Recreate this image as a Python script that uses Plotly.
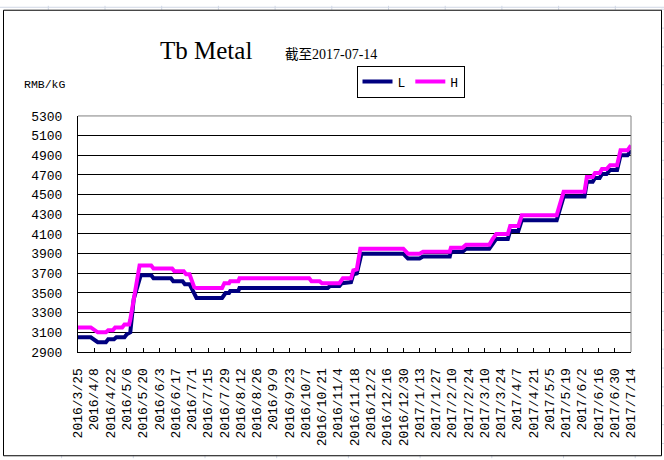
import plotly.graph_objects as go

# ---------------- data ----------------
L_dates = ["2016-03-25", "2016-04-05", "2016-04-11", "2016-04-18", "2016-04-20", "2016-04-25",
           "2016-04-27", "2016-05-04", "2016-05-06", "2016-05-09", "2016-05-12", "2016-05-18",
           "2016-05-27", "2016-05-29", "2016-06-13", "2016-06-15", "2016-06-23", "2016-06-25",
           "2016-06-29", "2016-07-03", "2016-07-05", "2016-07-27", "2016-07-30", "2016-08-02",
           "2016-08-03", "2016-08-10", "2016-08-11", "2016-10-26", "2016-10-28", "2016-11-05",
           "2016-11-07", "2016-11-15", "2016-11-17", "2016-11-20", "2016-11-24", "2016-12-30",
           "2017-01-03", "2017-01-13", "2017-01-16", "2017-02-08", "2017-02-09", "2017-02-19",
           "2017-02-22", "2017-03-14", "2017-03-17", "2017-03-20", "2017-03-30", "2017-04-01",
           "2017-04-08", "2017-04-11", "2017-05-11", "2017-05-17", "2017-06-04", "2017-06-06",
           "2017-06-11", "2017-06-13", "2017-06-17", "2017-06-19", "2017-06-23", "2017-06-26",
           "2017-07-02", "2017-07-05", "2017-07-11", "2017-07-14"]
L_vals = [3050, 3050, 3000, 3000, 3030, 3030,
          3050, 3050, 3080, 3100, 3440, 3680,
          3680, 3650, 3650, 3620, 3620, 3590,
          3590, 3500, 3450, 3450, 3500, 3500,
          3520, 3520, 3550, 3550, 3570, 3570,
          3600, 3610, 3690, 3700, 3900, 3900,
          3850, 3850, 3870, 3870, 3920, 3920,
          3950, 3950, 4000, 4050, 4050, 4130,
          4130, 4240, 4240, 4480, 4480, 4630,
          4630, 4670, 4670, 4710, 4710, 4750,
          4750, 4900, 4900, 4950]

H_dates = ["2016-03-25", "2016-04-05", "2016-04-11", "2016-04-18", "2016-04-20", "2016-04-24",
           "2016-04-26", "2016-05-02", "2016-05-04", "2016-05-08", "2016-05-09", "2016-05-15",
           "2016-05-17", "2016-05-27", "2016-05-29", "2016-06-14", "2016-06-16", "2016-06-24",
           "2016-06-26", "2016-06-29", "2016-07-03", "2016-07-05", "2016-07-27", "2016-07-29",
           "2016-08-02", "2016-08-03", "2016-08-10", "2016-08-11", "2016-10-10", "2016-10-12",
           "2016-10-19", "2016-10-21", "2016-11-05", "2016-11-08", "2016-11-15", "2016-11-17",
           "2016-11-20", "2016-11-23", "2016-12-30", "2017-01-03", "2017-01-13", "2017-01-16",
           "2017-02-08", "2017-02-09", "2017-02-19", "2017-02-22", "2017-03-14", "2017-03-17",
           "2017-03-20", "2017-03-30", "2017-04-01", "2017-04-08", "2017-04-11", "2017-05-11",
           "2017-05-17", "2017-06-04", "2017-06-06", "2017-06-11", "2017-06-13", "2017-06-17",
           "2017-06-19", "2017-06-23", "2017-06-26", "2017-07-02", "2017-07-05", "2017-07-11",
           "2017-07-14"]
H_vals = [3150, 3150, 3100, 3100, 3120, 3120,
          3150, 3150, 3180, 3180, 3230, 3670,
          3780, 3780, 3750, 3750, 3720, 3720,
          3690, 3690, 3560, 3550, 3550, 3600,
          3600, 3620, 3620, 3650, 3650, 3620,
          3620, 3600, 3600, 3650, 3650, 3730,
          3740, 3950, 3950, 3900, 3900, 3920,
          3920, 3960, 3960, 3990, 3990, 4050,
          4100, 4100, 4180, 4180, 4290, 4290,
          4530, 4530, 4680, 4680, 4720, 4720,
          4760, 4760, 4800, 4800, 4950, 4950,
          5000]

tick_dates = ["2016-03-25", "2016-04-08", "2016-04-22", "2016-05-06", "2016-05-20", "2016-06-03",
              "2016-06-17", "2016-07-01", "2016-07-15", "2016-07-29", "2016-08-12", "2016-08-26",
              "2016-09-09", "2016-09-23", "2016-10-07", "2016-10-21", "2016-11-04", "2016-11-18",
              "2016-12-02", "2016-12-16", "2016-12-30", "2017-01-13", "2017-01-27", "2017-02-10",
              "2017-02-24", "2017-03-10", "2017-03-24", "2017-04-07", "2017-04-21", "2017-05-05",
              "2017-05-19", "2017-06-02", "2017-06-16", "2017-06-30", "2017-07-14"]
tick_labels = ["2016/3/25", "2016/4/8", "2016/4/22", "2016/5/6", "2016/5/20", "2016/6/3",
               "2016/6/17", "2016/7/1", "2016/7/15", "2016/7/29", "2016/8/12", "2016/8/26",
               "2016/9/9", "2016/9/23", "2016/10/7", "2016/10/21", "2016/11/4", "2016/11/18",
               "2016/12/2", "2016/12/16", "2016/12/30", "2017/1/13", "2017/1/27", "2017/2/10",
               "2017/2/24", "2017/3/10", "2017/3/24", "2017/4/7", "2017/4/21", "2017/5/5",
               "2017/5/19", "2017/6/2", "2017/6/16", "2017/6/30", "2017/7/14"]
y_ticks = [2900, 3100, 3300, 3500, 3700, 3900, 4100, 4300, 4500, 4700, 4900, 5100, 5300]

title_text = "Tb Metal"
subtitle_cjk = "截至"
subtitle_date = "2017-07-14"
unit_text = "RMB/kG"

# ---------------- layout geometry (pixels) ----------------
W, HGT = 664, 460
PL, PR, PT, PB = 78, 631, 112, 352


def px(x):
    return (x - PL) / (PR - PL)


def py(y):
    return (PB - y) / (PB - PT)


fig = go.Figure()
fig.add_trace(go.Scatter(x=L_dates, y=L_vals, mode="lines", name="L",
                         line=dict(color="#000080", width=4)))
fig.add_trace(go.Scatter(x=H_dates, y=H_vals, mode="lines", name="H",
                         line=dict(color="#FF00FF", width=4)))

shapes = []
sheet_grid = "#d0d7e5"
# spreadsheet grid around the chart object
for i in range(12):
    gx = 48.3 + 56.7 * i
    shapes.append(dict(type="line", xref="paper", yref="paper", x0=px(gx), x1=px(gx),
                       y0=py(0), y1=py(4), line=dict(color=sheet_grid, width=1), layer="below"))
for i in range(9):
    gx = 61.6 + 71.7 * i
    shapes.append(dict(type="line", xref="paper", yref="paper", x0=px(gx), x1=px(gx),
                       y0=py(457), y1=py(460), line=dict(color=sheet_grid, width=1), layer="below"))
for i in range(25):
    gy = 3.5 + 19.2 * i
    shapes.append(dict(type="line", xref="paper", yref="paper", x0=px(661), x1=px(664),
                       y0=py(gy), y1=py(gy), line=dict(color=sheet_grid, width=1), layer="below"))
shapes.append(dict(type="line", xref="paper", yref="paper", x0=px(0), x1=px(664),
                   y0=py(1.5), y1=py(1.5), line=dict(color=sheet_grid, width=1), layer="below"))
# chart object border
shapes.append(dict(type="rect", xref="paper", yref="paper", x0=px(3.5), x1=px(661.5),
                   y0=py(457.5), y1=py(4.5), line=dict(color="#000000", width=1),
                   fillcolor="rgba(0,0,0,0)", layer="below"))
# gray top / right edges of plot area
shapes.append(dict(type="line", xref="x domain", yref="y domain", x0=0, x1=1, y0=1, y1=1,
                   line=dict(color="#808080", width=1)))
shapes.append(dict(type="line", xref="x domain", yref="y domain", x0=1, x1=1, y0=0, y1=1,
                   line=dict(color="#808080", width=1)))

annotations = [
    dict(text=title_text, xref="paper", yref="paper", x=px(206), y=py(45),
         xanchor="center", yanchor="middle", showarrow=False,
         font=dict(family="Liberation Serif", size=25, color="#000000")),
    dict(text="<span style='font-family:Noto Sans CJK SC;font-size:13.5px'>" + subtitle_cjk
              + "</span>" + subtitle_date,
         xref="paper", yref="paper", x=px(283), y=py(48),
         xanchor="left", yanchor="middle", showarrow=False,
         font=dict(family="Liberation Serif", size=14, color="#000000")),
    dict(text=unit_text, xref="paper", yref="paper", x=px(22), y=py(80),
         xanchor="left", yanchor="middle", showarrow=False,
         font=dict(family="Liberation Mono", size=11.5, color="#000000")),
]

fig.update_layout(
    width=W, height=HGT, autosize=False,
    margin=dict(l=PL, r=W - PR, t=PT, b=HGT - PB, pad=0),
    paper_bgcolor="#ffffff", plot_bgcolor="#ffffff",
    font=dict(family="Liberation Mono", size=13, color="#000000"),
    showlegend=True,
    legend=dict(orientation="h", xref="container", yref="container",
                x=410.5 / W, y=1 - 81.5 / HGT, xanchor="center", yanchor="middle",
                bgcolor="#ffffff", bordercolor="#000000", borderwidth=1,
                itemwidth=30, tracegroupgap=0,
                font=dict(family="Liberation Mono", size=13, color="#000000")),
    shapes=shapes,
    annotations=annotations,
)

fig.update_xaxes(
    type="date", range=[tick_dates[0], tick_dates[-1]],
    tickmode="array", tickvals=tick_dates, ticktext=tick_labels, tickangle=-90,
    ticks="inside", ticklen=4, tickcolor="#000000", tickwidth=1,
    showline=True, linecolor="#000000", linewidth=1,
    showgrid=False, zeroline=False, ticklabelstandoff=10,
    tickfont=dict(family="Liberation Mono", size=13, color="#000000"),
)
fig.update_yaxes(
    range=[y_ticks[0], y_ticks[-1]], tickmode="array", tickvals=y_ticks,
    ticks="", showline=True, linecolor="#000000", linewidth=1,
    showgrid=True, gridcolor="#000000", gridwidth=1, zeroline=False,
    ticklabelstandoff=12,
    tickfont=dict(family="Liberation Mono", size=13, color="#000000"),
)

fig.write_html("out.html",
               config={"displayModeBar": False},
               post_script="document.body.style.margin='0';document.body.style.overflow='hidden';")
